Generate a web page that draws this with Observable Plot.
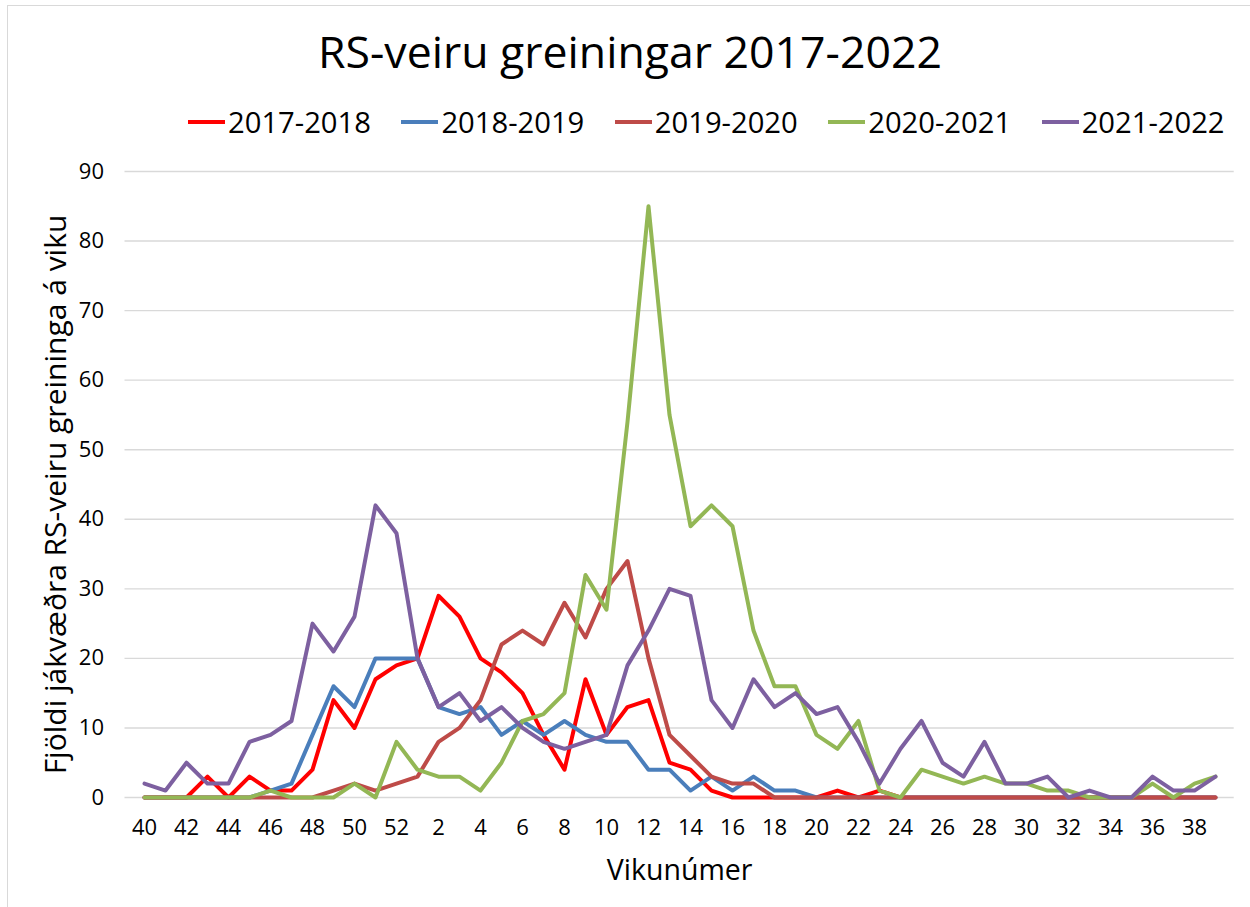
<!DOCTYPE html>
<html>
<head>
<meta charset="utf-8">
<script src="https://cdn.jsdelivr.net/npm/d3@7"></script>
<script src="https://cdn.jsdelivr.net/npm/@observablehq/plot@0.6"></script>
<style>
  body { margin: 0; background: #fff; font-family: "Open Sans", sans-serif; }
  #wrap { position: relative; width: 1250px; height: 907px; overflow: hidden; background: #fff; }
  #frame { position: absolute; left: 7px; top: 5px; width: 1300px; height: 1000px; border-left: 1px solid #d9d9d9; border-top: 1px solid #d9d9d9; }
  #title { position: absolute; left: 0; width: 1260px; top: 29px; text-align: center; font-size: 44.6px; line-height: 1; color: #000; white-space: nowrap; }
  #legend { position: absolute; left: 188px; top: 107.5px; display: flex; gap: 30.5px; font-size: 29.2px; line-height: 1; color: #000; }
  .item { display: flex; align-items: center; }
  .sw { width: 37px; height: 4px; margin-right: 3px; }
  #chart { position: absolute; left: 0; top: 150px; }
</style>
</head>
<body>
<div id="wrap">
  <div id="frame"></div>
  <div id="title"></div>
  <div id="legend"></div>
  <div id="chart"></div>
</div>
<script>
const titleText = "RS-veiru greiningar 2017-2022";
const yLabel = "Fjöldi jákvæðra RS-veiru greininga á viku";
const xLabel = "Vikunúmer";

const weeks = [40,41,42,43,44,45,46,47,48,49,50,51,52,
  1,2,3,4,5,6,7,8,9,10,11,12,13,14,15,16,17,18,19,20,
  21,22,23,24,25,26,27,28,29,30,31,32,33,34,35,36,37,38,39];

const xTickLabels = [40,42,44,46,48,50,52,2,4,6,8,10,12,14,16,18,20,22,24,26,28,30,32,34,36,38];
const yTicks = [0,10,20,30,40,50,60,70,80,90];

const seasons = ["2017-2018","2018-2019","2019-2020","2020-2021","2021-2022"];
const colors = ["#FF0000","#4A7EBB","#BE4B48","#93B755","#7D60A0"];

const s2017 = [0,0,0,3,0,3,1,1,4,14,10,17,19,
  20,29,26,20,18,15,9,4,17,9,13,14,5,4,1,0,0,0,0,0,
  1,0,1,0,0,0,0,0,0,0,0,0,0,0,0,0,0,0,0];
const s2018 = [0,0,0,0,0,0,1,2,9,16,13,20,20,
  20,13,12,13,9,11,9,11,9,8,8,4,4,1,3,1,3,1,1,0,
  0,0,0,0,0,0,0,0,0,0,0,0,0,0,0,0,0,0,0];
const s2019 = [0,0,0,0,0,0,0,0,0,1,2,1,2,
  3,8,10,14,22,24,22,28,23,30,34,20,9,6,3,2,2,0,0,0,
  0,0,0,0,0,0,0,0,0,0,0,0,0,0,0,0,0,0,0];
const s2020 = [0,0,0,0,0,0,1,0,0,0,2,0,8,
  4,3,3,1,5,11,12,15,32,27,54,85,55,39,42,39,24,16,16,9,
  7,11,1,0,4,3,2,3,2,2,1,1,0,0,0,2,0,2,3];
const s2021 = [2,1,5,2,2,8,9,11,25,21,26,42,38,
  20,13,15,11,13,10,8,7,8,9,19,24,30,29,14,10,17,13,15,12,
  13,8,2,7,11,5,3,8,2,2,3,0,1,0,0,3,1,1,3];

const seriesValues = [s2017, s2018, s2019, s2020, s2021];
const rows = seasons.flatMap((season, k) =>
  weeks.map((week, i) => ({ season, week, value: seriesValues[k][i] })));

document.getElementById("title").textContent = titleText;

const legend = document.getElementById("legend");
seasons.forEach((s, k) => {
  const item = document.createElement("div");
  item.className = "item";
  const sw = document.createElement("span");
  sw.className = "sw";
  sw.style.background = colors[k];
  const tx = document.createElement("span");
  tx.textContent = s;
  item.appendChild(sw);
  item.appendChild(tx);
  legend.appendChild(item);
});

const chart = Plot.plot({
  width: 1250,
  height: 757,
  marginLeft: 124.5,
  marginRight: 16.3,
  marginTop: 21,
  marginBottom: 110,
  style: { fontFamily: "Open Sans", fontSize: "21px", color: "#000", background: "transparent", overflow: "visible" },
  x: { type: "point", domain: weeks, padding: 0.5 },
  y: { domain: [0, 90] },
  color: { domain: seasons, range: colors },
  marks: [
    Plot.gridY(yTicks, { stroke: "#d9d9d9", strokeOpacity: 1, strokeWidth: 1.4 }),
    Plot.axisY(yTicks, { tickSize: 0, tickPadding: 21, label: null, fontSize: 22 }),
    Plot.axisX(xTickLabels, { tickSize: 0, tickPadding: 22, label: null, fontSize: 22 }),
    Plot.line(rows, { x: "week", y: "value", stroke: "season", strokeWidth: 4, strokeLinejoin: "round", strokeLinecap: "round" }),
    Plot.text([yLabel], { text: d => d, frameAnchor: "left", rotate: -90, dx: -69, dy: 10, textAnchor: "middle", fontSize: 30, fill: "#000" }),
    Plot.text([xLabel], { text: d => d, frameAnchor: "bottom", dy: 82, textAnchor: "middle", fontSize: 28.5, fill: "#000" })
  ]
});
document.getElementById("chart").appendChild(chart);
</script>
</body>
</html>
